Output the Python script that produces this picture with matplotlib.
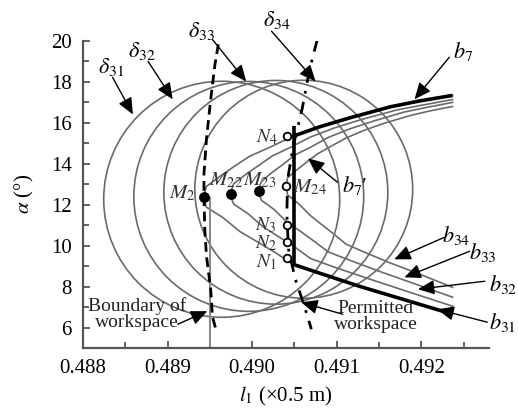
import matplotlib
matplotlib.use("Agg")
import matplotlib.pyplot as plt
from matplotlib.patches import Ellipse
from matplotlib.ticker import MultipleLocator

plt.rcParams["font.family"] = ["Liberation Serif", "DejaVu Serif"]
plt.rcParams["mathtext.fontset"] = "stix"

# delta curves (closed loops): centre and half-widths in data units
delta_names = ["31", "32", "33", "34"]
delta_cx = [0.48964, 0.48996, 0.49028, 0.49061]
delta_cy = [12.26, 12.40, 12.60, 12.75]
delta_rx = [0.001395, 0.001359, 0.001324, 0.001288]
delta_ry = [5.76, 5.61, 5.46, 5.32]

# b curves, upper end -> vertex -> lower end
b31_x = [0.49237, 0.49198, 0.49163, 0.49115, 0.49080, 0.49048, 0.49021, 0.48997, 0.48979, 0.48962, 0.48946,
         0.48944, 0.48943, 0.48944, 0.48946, 0.48965, 0.48985, 0.49005, 0.49027, 0.49048, 0.49080, 0.49127,
         0.49174, 0.49237]
b31_y = [17.33, 17.06, 16.77, 16.23, 15.80, 15.33, 14.80, 14.36, 13.87, 13.38, 12.89,
         12.61, 12.36, 12.11, 11.87, 11.38, 10.70, 10.21, 9.67, 9.09, 8.65, 8.01,
         7.43, 6.65]
b32_x = [0.49237, 0.49203, 0.49171, 0.49129, 0.49097, 0.49069, 0.49045, 0.49024, 0.49008, 0.48992, 0.48978,
         0.48976, 0.48975, 0.48976, 0.48978, 0.48995, 0.49013, 0.49031, 0.49050, 0.49069, 0.49097, 0.49140,
         0.49182, 0.49237]
b32_y = [17.13, 16.87, 16.62, 16.15, 15.74, 15.30, 14.79, 14.38, 13.92, 13.46, 13.01,
         12.75, 12.50, 12.26, 12.03, 11.56, 10.91, 10.44, 9.94, 9.37, 8.95, 8.35,
         7.78, 7.04]
b33_x = [0.49237, 0.49207, 0.49179, 0.49143, 0.49115, 0.49090, 0.49069, 0.49050, 0.49037, 0.49023, 0.49011,
         0.49009, 0.49008, 0.49009, 0.49011, 0.49026, 0.49041, 0.49057, 0.49073, 0.49090, 0.49115, 0.49152,
         0.49189, 0.49237]
b33_y = [16.99, 16.75, 16.51, 16.07, 15.69, 15.28, 14.80, 14.41, 13.98, 13.55, 13.13,
         12.89, 12.65, 12.43, 12.21, 11.76, 11.15, 10.70, 10.22, 9.69, 9.29, 8.72,
         8.18, 7.48]
b34_x = [0.49237, 0.49211, 0.49188, 0.49156, 0.49132, 0.49111, 0.49092, 0.49077, 0.49065, 0.49053, 0.49042,
         0.49041, 0.49040, 0.49041, 0.49042, 0.49055, 0.49069, 0.49082, 0.49096, 0.49111, 0.49132, 0.49164,
         0.49196, 0.49237]
b34_y = [16.79, 16.58, 16.36, 15.97, 15.62, 15.25, 14.82, 14.47, 14.09, 13.70, 13.32,
         13.11, 12.89, 12.68, 12.47, 12.04, 11.46, 11.03, 10.58, 10.07, 9.69, 9.14,
         8.64, 7.96]

# thick boundary b7 (upper), b7' (vertical), lower part along b31
b7_x = [0.49237, 0.49198, 0.49163, 0.49115, 0.49080, 0.49048]
b7_y = [17.33, 17.06, 16.77, 16.23, 15.80, 15.33]
b7p_x = [0.49049, 0.49049]
b7p_y = [15.82, 9.05]
b31_low_x = [0.49048, 0.49080, 0.49127, 0.49174, 0.49237]
b31_low_y = [9.09, 8.65, 8.01, 7.43, 6.65]

# dashed boundary (delta33) and dash-dot boundary (delta34)
dash_x = [0.48960, 0.48956, 0.48951, 0.48946, 0.48943, 0.48943, 0.48944, 0.48946, 0.48951, 0.48953, 0.48958]
dash_y = [19.82, 18.84, 17.14, 15.21, 13.48, 12.36, 10.80, 9.48, 7.87, 6.55, 5.77]
dashdot_x = [0.49077, 0.49068, 0.49059, 0.49049, 0.49042, 0.49041, 0.49043, 0.49051, 0.49061, 0.49070]
dashdot_y = [20.06, 18.62, 16.65, 14.94, 13.26, 11.53, 9.82, 8.36, 7.14, 5.92]

# workspace boundary line
wall_x = [0.48950, 0.48950]
wall_y = [5.0, 12.3]

# marked points
m_names = ["M_2", "M_{22}", "M_{23}", "M_{24}"]
m_x = [0.48943, 0.48975, 0.49008, 0.49040]
m_y = [12.36, 12.50, 12.65, 12.89]
m_filled = [True, True, True, False]
m_lx = [0.48917, 0.48969, 0.49009, 0.49068]
m_ly = [12.54, 13.19, 13.19, 12.84]
n_names = ["N_1", "N_2", "N_3", "N_4"]
n_x = [0.49041, 0.49041, 0.49041, 0.49041]
n_y = [9.38, 10.16, 10.99, 15.33]
n_lx = [0.49017, 0.49016, 0.49016, 0.49017]
n_ly = [9.20, 10.12, 11.00, 15.28]

# labels with arrows: text, text position, arrow start, arrow tip
lab_text = [r"$\delta_{31}$", r"$\delta_{32}$", r"$\delta_{33}$", r"$\delta_{34}$", r"$b_7$", r"$b_7$′",
            r"$b_{34}$", r"$b_{33}$", r"$b_{32}$", r"$b_{31}$"]
lab_x = [0.48833, 0.48869, 0.48940, 0.49029, 0.49249, 0.49121, 0.49241, 0.49273, 0.49297, 0.49296]
lab_y = [18.70, 19.48, 20.46, 20.99, 19.49, 12.94, 10.50, 9.67, 8.11, 6.26]
arr_x0 = [0.48835, 0.48877, 0.48953, 0.49023, 0.49233, 0.49101, 0.49227, 0.49257, 0.49275, 0.49278]
arr_y0 = [18.21, 18.99, 20.06, 20.46, 19.19, 13.09, 10.40, 9.72, 8.26, 6.26]
arr_x1 = [0.48859, 0.48906, 0.48993, 0.49075, 0.49192, 0.49066, 0.49168, 0.49180, 0.49196, 0.49219]
arr_y1 = [16.40, 17.14, 18.01, 18.01, 17.14, 14.26, 9.33, 8.45, 7.87, 6.89]

note_text = ["Boundary of\nworkspace", "Permitted\nworkspace"]
note_x = [0.48864, 0.49146]
note_y = [6.67, 6.55]
note_x0 = [0.48912, 0.49107]
note_y0 = [6.16, 6.65]
note_x1 = [0.48947, 0.49058]
note_y1 = [6.80, 7.23]

GREY = "#6a6a6a"

fig = plt.figure(figsize=(5.18, 4.12), dpi=100)
ax = fig.add_axes([0.1602, 0.1553, 0.7838, 0.7459])

for cx, cy, rx, ry in zip(delta_cx, delta_cy, delta_rx, delta_ry):
    ax.add_patch(Ellipse((cx, cy), 2 * rx, 2 * ry, fill=False, edgecolor=GREY, lw=1.2, zorder=2))

for bx, by in [(b31_x, b31_y), (b32_x, b32_y), (b33_x, b33_y), (b34_x, b34_y)]:
    ax.plot(bx, by, color=GREY, lw=1.2, zorder=2, solid_joinstyle="round")

ax.plot(wall_x, wall_y, color="#8a8a8a", lw=1.5, zorder=2)

thick = dict(color="black", lw=2.6, zorder=4, solid_capstyle="butt", solid_joinstyle="round")
ax.plot(b7_x, b7_y, **thick)
ax.plot(b7p_x, b7p_y, **thick)
ax.plot(b31_low_x, b31_low_y, **thick)

ax.plot(dash_x, dash_y, color="black", lw=2.0, dashes=(3.5, 2.0), zorder=5)
ax.plot(dashdot_x, dashdot_y, color="black", lw=2.0, dashes=(4.5, 3.0, 1.0, 3.0), zorder=5)

for x, y, filled in zip(m_x, m_y, m_filled):
    ax.plot(x, y, "o", ms=6.5 if filled else 5.5, mfc="black" if filled else "white",
            mec="black", mew=1.3, zorder=6)
for x, y in zip(n_x, n_y):
    ax.plot(x, y, "o", ms=5.5, mfc="white", mec="black", mew=1.3, zorder=6)

for name, x, y in zip(m_names, m_lx, m_ly):
    ax.text(x, y, f"${name}$", fontsize=15, ha="center", va="center", color="#333333", zorder=7)
for name, x, y in zip(n_names, n_lx, n_ly):
    ax.text(x, y, f"${name}$", fontsize=14, ha="center", va="center", color="#333333", zorder=7)

arrow_kw = dict(arrowstyle="-|>,head_length=0.5,head_width=0.22", color="black", lw=1.0,
                mutation_scale=20, shrinkA=0, shrinkB=0)
for t, x, y, x0, y0, x1, y1 in zip(lab_text, lab_x, lab_y, arr_x0, arr_y0, arr_x1, arr_y1):
    ax.text(x, y, t, fontsize=16, ha="center", va="center", clip_on=False, zorder=7)
    ax.annotate("", xy=(x1, y1), xytext=(x0, y0), arrowprops=arrow_kw, annotation_clip=False, zorder=7)

for t, x, y, x0, y0, x1, y1 in zip(note_text, note_x, note_y, note_x0, note_y0, note_x1, note_y1):
    ax.text(x, y, t, fontsize=14, ha="center", va="center", linespacing=0.95, color="#222222", zorder=7)
    ax.annotate("", xy=(x1, y1), xytext=(x0, y0), arrowprops=arrow_kw, zorder=7)

ax.set_xlim(0.488, 0.4928)
ax.set_ylim(5, 20)
ax.xaxis.set_minor_locator(MultipleLocator(0.0005))
ax.yaxis.set_minor_locator(MultipleLocator(1))
ax.set_xticks([0.488, 0.489, 0.490, 0.491, 0.492])
ax.set_xticklabels(["0.488", "0.489", "0.490", "0.491", "0.492"])
ax.set_yticks([6, 8, 10, 12, 14, 16, 18, 20])
ax.tick_params(which="both", direction="in", color="#555555", width=1.3, labelsize=15, pad=8)
ax.tick_params(which="major", length=5)
ax.tick_params(which="minor", length=4)

for side in ["top", "right"]:
    ax.spines[side].set_visible(False)
for side in ["left", "bottom"]:
    ax.spines[side].set_color("#555555")
    ax.spines[side].set_linewidth(1.6)

ax.set_xlabel(r"$l_1$ (×0.5 m)", fontsize=15, labelpad=5)
ax.set_ylabel(r"$\alpha$ (°)", fontsize=15, labelpad=11)

fig.savefig("out.png", dpi=100)
